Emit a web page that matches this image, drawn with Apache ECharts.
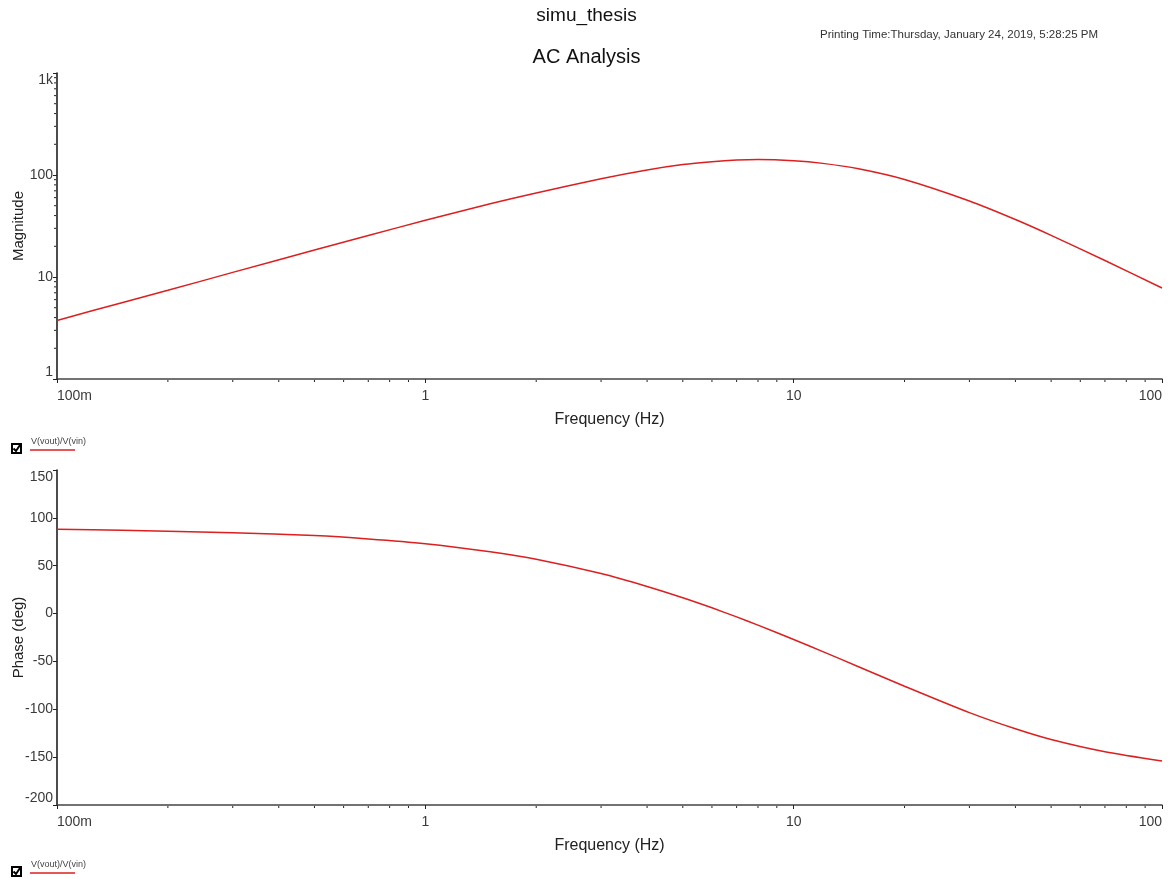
<!DOCTYPE html>
<html><head><meta charset="utf-8">
<script src="https://cdn.jsdelivr.net/npm/echarts@6/dist/echarts.min.js"></script>
<style>html,body{margin:0;padding:0;background:#fff}#chart{width:1173px;height:879px}</style>
</head><body><div id="chart"></div>
<script>
// Frequency sweep (Hz) and the response of V(vout)/V(vin)
const freqHz    = [0.1, 0.15, 0.2, 0.3, 0.5, 0.7, 1, 1.5, 2, 3, 4, 5, 6, 7, 8, 10, 12, 15, 20, 30, 40, 50, 70, 100];
const magnitude = [3.75, 5.6, 7.4, 11.1, 18.4, 25.5, 36, 52.2, 66.7, 92, 112, 126.5, 135, 140, 141.6, 138, 130, 115, 90.3, 55.6, 36.6, 25.6, 14.5, 7.8];
const phaseDeg  = [88, 87, 86, 84.5, 81.5, 78, 73, 64.5, 56.8, 41.8, 28.3, 16.5, 6, -3.5, -12.1, -27.1, -39.7, -55.5, -75.9, -103.5, -120.4, -131.6, -144.4, -154];
const traceName = 'V(vout)/V(vin)';
const plotTitle = 'simu_thesis';
const plotSubtitle = 'AC Analysis';
const printTime = 'Printing Time:Thursday, January 24, 2019, 5:28:25 PM';

const FONT = '"Liberation Sans", Arial, sans-serif';
const RED = '#dc1f1f';
const LABEL = '#3a3a3a';

function engFmt(v) {
  const e = Math.round(Math.log10(v));
  const n = Math.pow(10, e);
  if (n < 1) return Math.round(n * 1000) + 'm';
  if (n >= 1000) return Math.round(n / 1000) + 'k';
  return String(n);
}

// log-decade minor tick positions (2..9 within each decade)
function minorValues(lo, hi) {
  const out = [];
  for (let d = lo; d < hi; d *= 10) for (let k = 2; k <= 9; k++) out.push(+(d * k).toPrecision(3));
  return out;
}

const grids = [
  { left: 57, right: 11, top: 73, height: 306, containLabel: false, outerBoundsMode: 'none' },
  { left: 57, right: 11, top: 470, height: 335, containLabel: false, outerBoundsMode: 'none' }
];

function xAxisFor(gi) {
  return {
    type: 'log', logBase: 10, gridIndex: gi, min: 0.1, max: 100,
    name: 'Frequency (Hz)', nameLocation: 'middle', nameGap: 33, nameMoveOverlap: false,
    nameTextStyle: { fontFamily: FONT, fontSize: 16, color: '#222' },
    axisLine: { onZero: false, lineStyle: { color: '#444', width: 1.5 } },
    axisTick: { show: true, length: 4, lineStyle: { color: '#222' } },
    minorTick: { show: false },
    splitLine: { show: false },
    axisLabel: {
      formatter: engFmt, fontFamily: FONT, fontSize: 14, color: LABEL, margin: 10,
      alignMinLabel: 'left', alignMaxLabel: 'right'
    }
  };
}

const yAxes = [
  {
    type: 'log', logBase: 10, gridIndex: 0, min: 1, max: 1000,
    name: 'Magnitude', nameLocation: 'middle', nameGap: 31, nameRotate: 90, nameMoveOverlap: false,
    nameTextStyle: { fontFamily: FONT, fontSize: 15, color: '#222' },
    axisLine: { show: true, onZero: false, lineStyle: { color: '#111', width: 1.5 } },
    axisTick: { show: true, length: 4, lineStyle: { color: '#222' } },
    splitLine: { show: false },
    axisLabel: {
      formatter: engFmt, fontFamily: FONT, fontSize: 14, color: LABEL, margin: 4,
      verticalAlignMaxLabel: 'top', verticalAlignMinLabel: 'bottom'
    }
  },
  {
    type: 'value', gridIndex: 1, min: -200, max: 150, interval: 50,
    name: 'Phase (deg)', nameLocation: 'middle', nameGap: 31, nameRotate: 90, nameMoveOverlap: false,
    nameTextStyle: { fontFamily: FONT, fontSize: 15, color: '#222' },
    axisLine: { show: true, onZero: false, lineStyle: { color: '#111', width: 1.5 } },
    axisTick: { show: true, length: 4, lineStyle: { color: '#222' } },
    splitLine: { show: false },
    axisLabel: {
      fontFamily: FONT, fontSize: 14, color: LABEL, margin: 4,
      verticalAlignMaxLabel: 'top', verticalAlignMinLabel: 'bottom'
    }
  }
];

const magData = freqHz.map((f, i) => [f, magnitude[i]]);
const phaseData = freqHz.map((f, i) => [f, phaseDeg[i]]);

// small tick marks for log decades
const xMinor = minorValues(0.1, 100);
const yMinor = minorValues(1, 1000);

function xMinorSeries(xi, yi, yBase) {
  return {
    type: 'custom', xAxisIndex: xi, yAxisIndex: yi, clip: false, silent: true,
    data: xMinor.map(v => [v, yBase]),
    renderItem: (params, api) => {
      const p = api.coord([api.value(0), api.value(1)]);
      return { type: 'line', shape: { x1: p[0], y1: p[1] + 1, x2: p[0], y2: p[1] + 3 },
        style: { stroke: '#222', lineWidth: 1 } };
    }
  };
}

const legendGraphic = (top) => ({
  type: 'group', x: 0, y: top,
  children: [
    { type: 'rect', shape: { x: 12, y: 7, width: 9, height: 9 }, style: { fill: '#fff', stroke: '#000', lineWidth: 2 } },
    { type: 'polyline', shape: { points: [[13.5, 11.5], [16, 14], [20, 8]] }, style: { stroke: '#000', lineWidth: 2, fill: null } },
    { type: 'text', x: 31, y: 0, style: { text: traceName, fontFamily: FONT, fontSize: 9, fill: '#444' } },
    { type: 'line', shape: { x1: 30, y1: 13, x2: 75, y2: 13 }, style: { stroke: RED, lineWidth: 1.5 } }
  ]
});

const option = {
  animation: false,
  backgroundColor: '#fff',
  title: [
    { text: plotTitle, left: 'center', top: 1, textStyle: { fontFamily: FONT, fontSize: 19, fontWeight: 'normal', color: '#111' } },
    { text: plotSubtitle, left: 'center', top: 42, textStyle: { fontFamily: FONT, fontSize: 20, fontWeight: 'normal', color: '#111' } }
  ],
  grid: grids,
  xAxis: [xAxisFor(0), xAxisFor(1)],
  yAxis: yAxes,
  graphic: [
    { type: 'text', x: 820, y: 29, style: { text: printTime, fontFamily: FONT, fontSize: 11.5, fill: '#333' } },
    legendGraphic(437),
    legendGraphic(860)
  ],
  series: [
    { type: 'line', name: traceName, xAxisIndex: 0, yAxisIndex: 0, data: magData, smooth: 0.25,
      showSymbol: false, lineStyle: { color: RED, width: 1.5 }, itemStyle: { color: RED } },
    { type: 'line', name: traceName, xAxisIndex: 1, yAxisIndex: 1, data: phaseData, smooth: 0.25,
      showSymbol: false, lineStyle: { color: RED, width: 1.5 }, itemStyle: { color: RED } },
    xMinorSeries(0, 0, 1),
    xMinorSeries(1, 1, -200),
    {
      type: 'custom', xAxisIndex: 0, yAxisIndex: 0, clip: false, silent: true,
      data: yMinor.map(v => [0.1, v]),
      renderItem: (params, api) => {
        const p = api.coord([api.value(0), api.value(1)]);
        return { type: 'line', shape: { x1: p[0] - 3, y1: p[1], x2: p[0] - 1, y2: p[1] },
          style: { stroke: '#222', lineWidth: 1 } };
      }
    }
  ]
};

echarts.init(document.getElementById('chart'), null, { renderer: 'canvas' }).setOption(option);
</script>
</body></html>
